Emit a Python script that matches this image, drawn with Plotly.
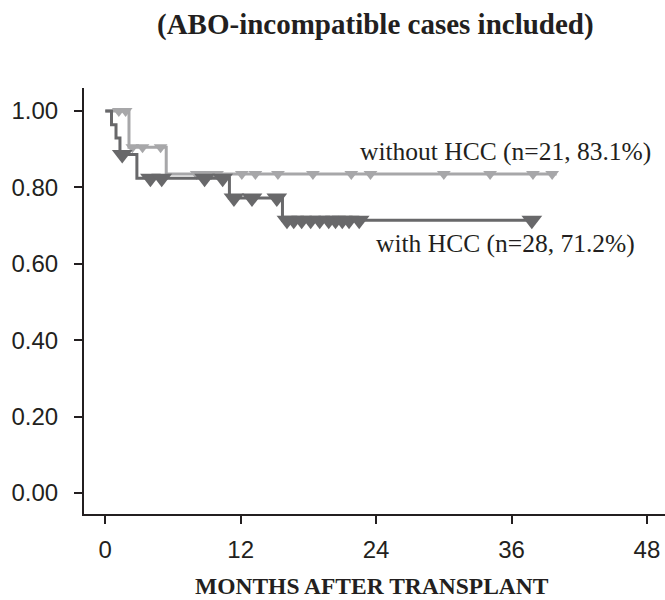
import plotly.graph_objects as go

# ---------------- data ----------------
# without HCC (n=21)
noHCC_step_months = [0, 2.1, 5.4, 40.0]
noHCC_step_surv = [1.0, 0.905, 0.835, 0.835]
noHCC_cens_months = [1.2, 1.8, 2.4, 3.3, 4.9, 8.1, 8.8, 9.4, 9.9, 12.1, 13.3, 15.3,
                     18.4, 21.8, 23.5, 30.0, 34.1, 37.9, 39.6]
noHCC_cens_surv = [1.0, 1.0, 0.905, 0.905, 0.905] + [0.835] * 14

# with HCC (n=28)
HCC_step_months = [0, 0.55, 0.95, 1.3, 2.8, 11.0, 15.7, 37.8]
HCC_step_surv = [1.0, 0.964, 0.929, 0.886, 0.824, 0.772, 0.714, 0.714]
HCC_cens_months = [1.5, 4.0, 5.0, 8.8, 10.4, 11.4, 13.0, 15.2,
                   16.1, 16.7, 17.4, 18.2, 19.0, 19.8, 20.4, 21.0, 21.6, 22.5, 37.8]
HCC_cens_surv = [0.886, 0.824, 0.824, 0.824, 0.824, 0.772, 0.772, 0.772] + [0.714] * 11

x_ticks = [0, 12, 24, 36, 48]
y_ticks = [0.0, 0.2, 0.4, 0.6, 0.8, 1.0]
y_ticklabels = ["0.00", "0.20", "0.40", "0.60", "0.80", "1.00"]

title_text = "(ABO-incompatible cases included)"
xaxis_title = "MONTHS AFTER TRANSPLANT"
label_noHCC = "without HCC (n=21, 83.1%)"
label_HCC = "with HCC (n=28, 71.2%)"

LIGHT = "#a7a7a9"
DARK = "#68686a"
INK = "#231f20"

fig = go.Figure()
fig.add_trace(go.Scatter(x=noHCC_step_months, y=noHCC_step_surv, mode="lines",
                         line=dict(color=LIGHT, width=3, shape="hv"), showlegend=False))
fig.add_trace(go.Scatter(x=noHCC_cens_months, y=noHCC_cens_surv, mode="markers",
                         marker=dict(symbol="triangle-down", size=12, color=LIGHT),
                         showlegend=False))
fig.add_trace(go.Scatter(x=HCC_step_months, y=HCC_step_surv, mode="lines",
                         line=dict(color=DARK, width=3, shape="hv"), showlegend=False))
fig.add_trace(go.Scatter(x=HCC_cens_months, y=HCC_cens_surv, mode="markers",
                         marker=dict(symbol="triangle-down", size=18, color=DARK),
                         showlegend=False))

serif = "Liberation Serif, Times New Roman, serif"
sans = "Liberation Sans, Arial, sans-serif"

fig.update_layout(
    width=665, height=600,
    margin=dict(l=84, r=0, t=88, b=86),
    paper_bgcolor="white", plot_bgcolor="white",
    xaxis=dict(range=[-1.887, 49.6], tickvals=x_ticks, ticktext=[str(t) for t in x_ticks],
               showgrid=False, zeroline=False, showline=True, linecolor=INK, linewidth=2,
               ticks="outside", ticklen=8, tickwidth=2, tickcolor=INK,
               tickfont=dict(family=sans, size=24, color=INK), ticklabelstandoff=5),
    yaxis=dict(range=[-0.055, 1.060], tickvals=y_ticks, ticktext=y_ticklabels,
               showgrid=False, zeroline=False, showline=True, linecolor=INK, linewidth=2,
               ticks="outside", ticklen=8, tickwidth=2, tickcolor=INK,
               tickfont=dict(family=sans, size=24, color=INK), ticklabelstandoff=11),
    annotations=[
        dict(text="<b>" + title_text + "</b>", xref="paper", yref="paper",
             x=0.5017, y=1.150, xanchor="center", yanchor="middle", showarrow=False,
             font=dict(family=serif, size=29, color=INK)),
        dict(text="<b>" + xaxis_title + "</b>", xref="paper", yref="paper",
             x=0.4957, y=-0.169, xanchor="center", yanchor="middle", showarrow=False,
             font=dict(family=serif, size=23.5, color=INK)),
        dict(text=label_noHCC, xref="x", yref="y", x=48.5, y=0.895,
             xanchor="right", yanchor="middle", showarrow=False,
             font=dict(family=serif, size=25.5, color=INK)),
        dict(text=label_HCC, xref="x", yref="y", x=47.1, y=0.652,
             xanchor="right", yanchor="middle", showarrow=False,
             font=dict(family=serif, size=25.5, color=INK)),
    ],
)

fig.write_html("out.html")
